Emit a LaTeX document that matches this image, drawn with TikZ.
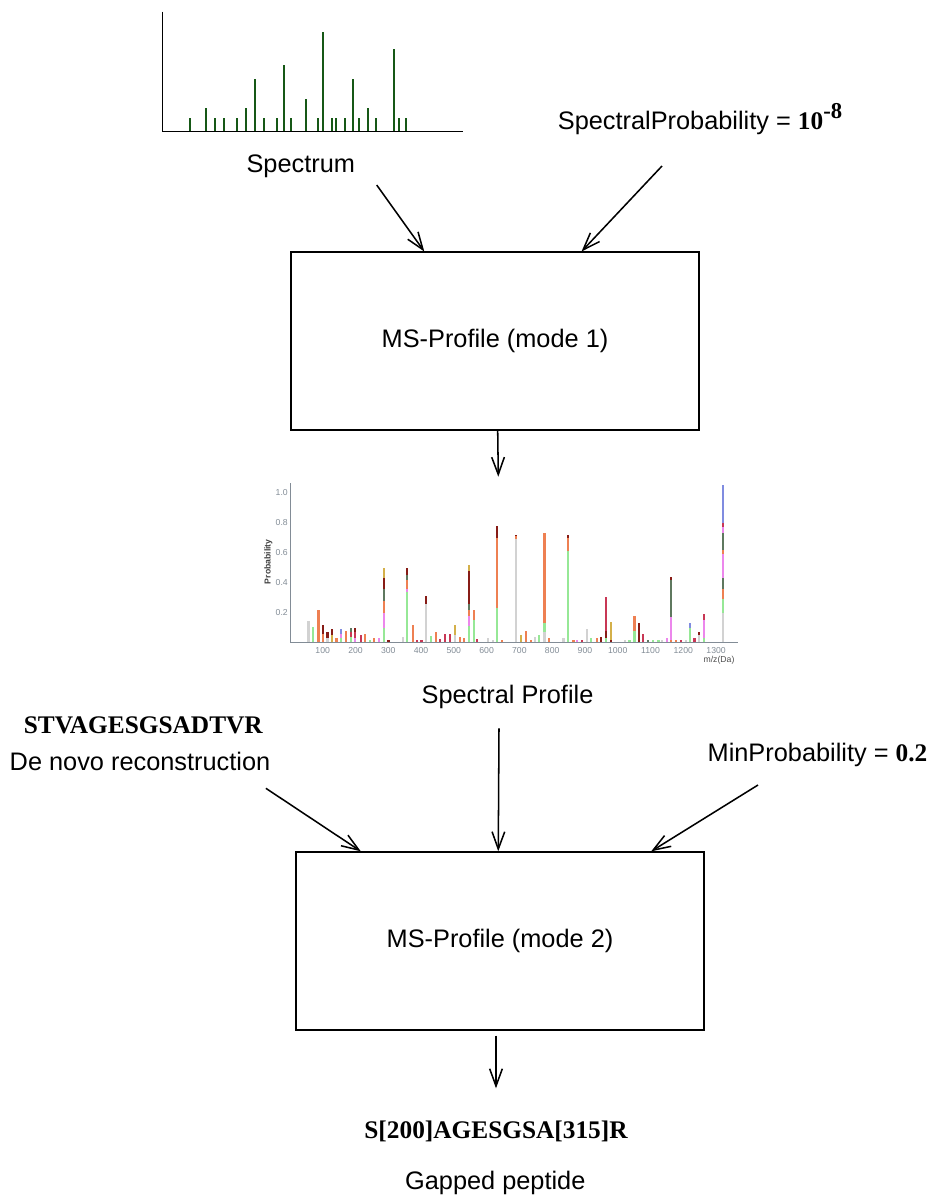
\documentclass[tikz,border=0pt]{standalone}
\usepackage{fontspec}
\setmainfont{Liberation Sans}
\newfontfamily\timesfont{Liberation Serif}
\usetikzlibrary{arrows.meta,calc}
\definecolor{peakgreen}{RGB}{22,88,22}
\definecolor{pg}{RGB}{150,232,150}
\definecolor{po}{RGB}{238,128,82}
\definecolor{pk}{RGB}{210,210,210}
\definecolor{pb}{RGB}{135,28,22}
\definecolor{pr}{RGB}{200,55,85}
\definecolor{pv}{RGB}{236,135,236}
\definecolor{pd}{RGB}{95,120,95}
\definecolor{pt}{RGB}{212,176,74}
\definecolor{pu}{RGB}{128,140,224}
\definecolor{axgray}{RGB}{130,140,150}
\newcommand{\probbar}[2]{%
  \foreach \curh/\colr [remember=\curh as \prevh (initially 0)] in {#2}{%
    \fill[\colr] ({#1-1.2},{642.5-150*\prevh}) rectangle ({#1+1.2},{642.5-150*\curh});
  }}
\tikzset{
  lbl/.style={font=\fontsize{19}{22}\selectfont, inner sep=0pt},
  seqlbl/.style={font=\fontsize{19}{22}\selectfont\timesfont\bfseries, inner sep=0pt},
  procbox/.style={draw, line width=1.1pt, minimum width=306pt, minimum height=133.5pt,
    inner sep=0pt, font=\fontsize{19}{22}\selectfont},
  arr/.style={-{Straight Barb[length=13pt,width=9.5pt]}, line width=1.15pt},
  peak/.style={draw=peakgreen, line width=1.6pt},
  ticklbl/.style={font=\fontsize{6.5}{7}\selectfont, text=axgray, inner sep=0pt}
}
\begin{document}
\begin{tikzpicture}[x=0.75pt,y=-0.75pt]
\useasboundingbox (0,0) rectangle (933,1197);

% ---------- spectrum ----------
\foreach \px/\py in {190.3/118.3,206/108.3,214.7/118.3,223.7/118.3,237.3/118.3,246.3/108.3,
  255.3/79.3,264/118.3,277.3/118.3,284.3/65,291.3/118.3,306/99,317.7/118.3,322.7/32.3,
  331.7/118.3,336/118.3,345/118.3,353.3/79.3,359/118.3,367.7/108.3,376.3/118.3,393.7/49.3,
  399/118.3,405.7/118.3}
  \draw[peak] (\px,131) -- (\px,\py);
\draw[line width=1.2pt] (162.3,11.7) -- (162.3,131.5) -- (463.3,131.5);

\node[lbl] (spec) at (300.8,166.7) {Spectrum};
\node[lbl] (sprob) at (700,119) {SpectralProbability = {\timesfont\bfseries 10\raisebox{0.42em}{\fontsize{17}{17}\selectfont -8}}};

% ---------- box 1 ----------
\node[procbox] (box1) at (495,341.2) {MS-Profile (mode 1)};
\coordinate (a1s) at (376.7,185);
\coordinate (a2s) at (662,166);
\draw[arr] (a1s) -- ($(box1.north west)+(134,0)$);
\draw[arr] (a2s) -- ($(box1.north west)+(291.3,0)$);
\coordinate (c1) at (498.3,476.7);
\draw[arr] ($(box1.south)+(2.7,0)$) -- (c1);

% ---------- spectral profile chart ----------
\probbar{308.3}{0.143/pk}
\probbar{312.7}{0.105/pg}
\probbar{318.3}{0.216/po}
\probbar{322.7}{0.06/po,0.116/pb}
\probbar{327.3}{0.03/pk,0.072/pb}
\probbar{331.7}{0.05/pt,0.088/pb}
\probbar{336.5}{0.027/po}
\probbar{341}{0.03/pg,0.06/pv,0.088/pu}
\probbar{346}{0.077/po}
\probbar{350.7}{0.04/pg,0.07/pr,0.094/pd}
\probbar{355}{0.03/pv,0.07/pr,0.094/pb}
\probbar{360.7}{0.05/pr}
\probbar{365}{0.054/po}
\probbar{370}{0.017/pg}
\probbar{374}{0.032/po}
\probbar{379}{0.032/pv}
\probbar{384}{0.1/pg,0.2/pv,0.28/po,0.36/pd,0.43/pb,0.5/pt}
\probbar{388.5}{0.02/pb}
\probbar{402.7}{0.04/pk}
\probbar{406.7}{0.34/pg,0.36/pv,0.42/po,0.45/pd,0.5/pb}
\probbar{412.7}{0.12/po}
\probbar{417}{0.015/pr}
\probbar{421.5}{0.015/pr}
\probbar{426}{0.26/pk,0.312/pb}
\probbar{430.7}{0.045/pg}
\probbar{435.7}{0.07/po}
\probbar{440}{0.025/pr}
\probbar{445}{0.055/pr}
\probbar{450}{0.055/pr}
\probbar{455}{0.05/pk,0.12/pt}
\probbar{460}{0.04/po}
\probbar{464}{0.03/po}
\probbar{468.7}{0.11/pg,0.18/pv,0.22/po,0.26/pd,0.48/pb,0.52/pt}
\probbar{473.7}{0.15/pg,0.22/po}
\probbar{477}{0.025/pr}
\probbar{487.7}{0.03/pk}
\probbar{493}{0.02/pk}
\probbar{497}{0.23/pg,0.7/po,0.78/pb}
\probbar{501.7}{0.02/po}
\probbar{516}{0.69/pk,0.71/po,0.72/pb}
\probbar{520.7}{0.05/pt}
\probbar{525.7}{0.08/po}
\probbar{530.7}{0.02/po}
\probbar{535}{0.04/pk}
\probbar{539}{0.05/pg}
\probbar{544.3}{0.07/pk,0.13/pg,0.73/po}
\probbar{549}{0.03/po}
\probbar{563.3}{0.03/pk}
\probbar{568}{0.61/pg,0.7/po,0.72/pb}
\probbar{573.3}{0.02/po}
\probbar{577}{0.02/pv}
\probbar{582}{0.02/pr}
\probbar{586.7}{0.09/pk}
\probbar{590.7}{0.03/pg}
\probbar{596.7}{0.03/po}
\probbar{600.7}{0.04/pb}
\probbar{606}{0.03/pg,0.08/pb,0.305/pr}
\probbar{610.7}{0.02/pb,0.14/pt}
\probbar{625}{0.02/pk}
\probbar{629.3}{0.02/pg}
\probbar{634.3}{0.08/pg,0.18/po}
\probbar{639}{0.13/pb}
\probbar{642.7}{0.06/pr}
\probbar{647.7}{0.02/pd}
\probbar{653}{0.02/pg}
\probbar{658.3}{0.02/pg}
\probbar{661.7}{0.02/pk}
\probbar{666.7}{0.03/pv}
\probbar{671}{0.02/po,0.17/pv,0.42/pd,0.44/pb}
\probbar{676}{0.02/po}
\probbar{680.7}{0.015/pr}
\probbar{685.7}{0.015/pk}
\probbar{690}{0.1/pg,0.13/pu}
\probbar{694.3}{0.03/pr}
\probbar{699}{0.05/pk,0.07/pb}
\probbar{704}{0.03/pg,0.15/pv,0.19/pr}
\probbar{722.7}{0.2/pk,0.29/pg,0.36/po,0.43/pd,0.59/pv,0.62/po,0.73/pd,0.77/pv,0.8/pr,1.05/pu}

\draw[axgray, line width=0.6pt] (290.7,483) -- (290.7,642.5) -- (738,642.5);
\foreach \v/\lab in {0.2/0.2,0.4/0.4,0.6/0.6,0.8/0.8,1.0/1.0}
  \node[ticklbl, anchor=east] at (288,{642.5-150*\v}) {\lab};
\foreach \m in {100,200,...,1300}
  \node[ticklbl] at ({322.7+(\m-100)*0.3278},650.7) {\m};
\node[ticklbl, text=black!70] at (719,660.5) {m/z(Da)};
\node[font=\fontsize{6.5}{7}\selectfont\bfseries, text=black!75, rotate=90, inner sep=0pt] at (268.5,561.7) {Probability};

% ---------- second stage ----------
\node[lbl] (prof) at (507.5,696.7) {Spectral Profile};
\node[seqlbl] (dnseq) at (143.3,725) {STVAGESGSADTVR};
\node[lbl] (dnlbl) at (140,761.7) {De novo reconstruction};
\node[lbl] (mprob) at (817.5,755) {MinProbability = {\timesfont\bfseries 0.2}};

\node[procbox] (box2) at (500,941) {MS-Profile (mode 2)};
\coordinate (b1s) at (265.9,788.3);
\coordinate (b2s) at (499,728.3);
\coordinate (b3s) at (758,785);
\draw[arr] (b1s) -- ($(box2.north west)+(65.5,0)$);
\draw[arr] (b2s) -- ($(box2.north west)+(203,0)$);
\draw[arr] (b3s) -- ($(box2.north west)+(356,0)$);

\coordinate (c2) at (496,1088.3);
\draw[arr] ($(box2.south)+(-4,5)$) -- (c2);
\node[seqlbl] (gseq) at (496,1131) {S[200]AGESGSA[315]R};
\node[lbl] (glbl) at (495.3,1183) {Gapped peptide};
\end{tikzpicture}
\end{document}
